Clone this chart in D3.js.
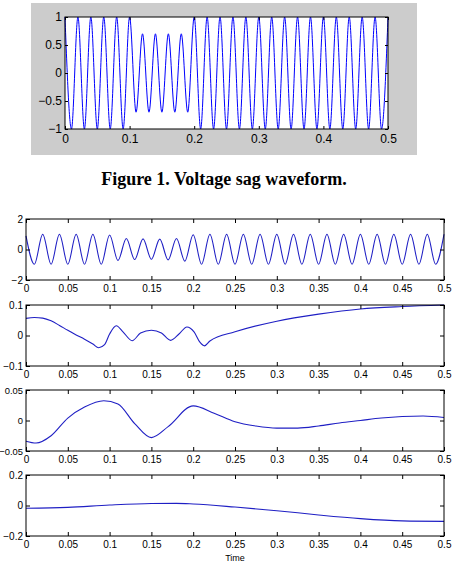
<!DOCTYPE html>
<html>
<head>
<meta charset="utf-8">
<script src="https://cdn.jsdelivr.net/npm/d3@7"></script>
<style>
  body { margin: 0; background: #fff; }
  svg { display: block; }
  .tick text { font-family: "Liberation Sans", Arial, sans-serif; fill: #000; }
  .tick line { stroke: #000; }
</style>
</head>
<body>
<svg id="fig" width="454" height="566"></svg>
<script>
'use strict';

// peak/trough times of the 50 Hz waves (s)
var cycleTimes = [0, 0.01, 0.02, 0.03, 0.04, 0.05, 0.06, 0.07, 0.08, 0.09,
  0.1, 0.11, 0.12, 0.13, 0.14, 0.15, 0.16, 0.17, 0.18, 0.19,
  0.2, 0.21, 0.22, 0.23, 0.24, 0.25, 0.26, 0.27, 0.28, 0.29,
  0.3, 0.31, 0.32, 0.33, 0.34, 0.35, 0.36, 0.37, 0.38, 0.39,
  0.4, 0.41, 0.42, 0.43, 0.44, 0.45, 0.46, 0.47, 0.48, 0.49, 0.5];

// figure 1: voltage sag, extreme values at each half cycle
var sagWave = [1, -1, 1, -1, 1, -1, 1, -1, 1, -1,
  1, -0.7, 0.7, -0.7, 0.7, -0.7, 0.7, -0.7, 0.7, -0.7,
  1, -1, 1, -1, 1, -1, 1, -1, 1, -1,
  1, -1, 1, -1, 1, -1, 1, -1, 1, -1,
  1, -1, 1, -1, 1, -1, 1, -1, 1, -1, 1];

// subplot 1: measured signal, extreme values at each half cycle
var signalWave = [0.9, -0.97, 1, -0.97, 1, -0.97, 1, -0.97, 1, -0.97,
  0.95, -0.72, 0.72, -0.66, 0.7, -0.64, 0.68, -0.68, 0.72, -0.76,
  0.97, -0.97, 1, -0.97, 1, -0.97, 1, -0.97, 1, -0.97,
  1, -0.97, 1, -0.97, 1, -0.97, 1, -0.97, 1, -0.97,
  1, -0.97, 1, -0.97, 1, -0.97, 1, -0.97, 1, -0.97, 1];

// subplot 2
var detail1Times = [0, 0.01, 0.02, 0.03, 0.04, 0.05, 0.06, 0.07, 0.08, 0.087, 0.094,
  0.1, 0.108, 0.116, 0.127, 0.137, 0.15, 0.162, 0.173, 0.183, 0.1925, 0.201,
  0.208, 0.2135, 0.22, 0.25, 0.3, 0.35, 0.4, 0.45, 0.5];
var detail1Values = [0.056, 0.059, 0.057, 0.048, 0.033, 0.017, 0.002, -0.012, -0.028, -0.04, -0.03,
  0.005, 0.032, 0.012, -0.017, 0.008, 0.017, 0.008, -0.016, 0.005, 0.028, 0.012,
  -0.022, -0.034, -0.018, 0.012, 0.047, 0.07, 0.087, 0.095, 0.1];

// subplot 3
var detail2Times = [0, 0.012, 0.03, 0.05, 0.07, 0.093, 0.11, 0.13, 0.15, 0.17, 0.2,
  0.225, 0.25, 0.275, 0.3, 0.325, 0.35, 0.375, 0.4, 0.425, 0.45, 0.475, 0.5];
var detail2Values = [-0.034, -0.037, -0.025, 0.004, 0.022, 0.0325, 0.027, -0.005, -0.028, -0.01, 0.024,
  0.012, -0.002, -0.009, -0.0125, -0.0125, -0.009, -0.004, 0.0, 0.004, 0.0065, 0.0075, 0.005];

// subplot 4
var approxTimes = [0, 0.05, 0.1, 0.15, 0.18, 0.2, 0.25, 0.3, 0.35, 0.4, 0.45, 0.5];
var approxValues = [-0.018, -0.012, 0.003, 0.013, 0.014, 0.01, -0.01, -0.034, -0.062, -0.086, -0.101, -0.104];

var timeTicks = [0, 0.05, 0.1, 0.15, 0.2, 0.25, 0.3, 0.35, 0.4, 0.45, 0.5];

var svg = d3.select("#fig");
var fmt = function(d) { return d3.format("~g")(d); };

// ---- figure 1 ----
svg.append("rect")
  .attr("x", 31).attr("y", 3).attr("width", 386).attr("height", 152)
  .attr("fill", "#cccccc");

var topPanel = function() {
  var left = 65, top = 17, w = 323, h = 112;
  var x = d3.scaleLinear().domain([0, 0.5]).range([left, left + w]);
  var y = d3.scaleLinear().domain([-1, 1]).range([top + h, top]);
  svg.append("rect")
    .attr("x", left).attr("y", top).attr("width", w).attr("height", h)
    .attr("fill", "#fff");
  var line = d3.line()
    .x(function(d, i) { return x(cycleTimes[i]); })
    .y(function(d) { return y(d); })
    .curve(d3.curveMonotoneX);
  svg.append("path")
    .datum(sagWave)
    .attr("d", line)
    .attr("fill", "none")
    .attr("stroke", "#0000ff")
    .attr("stroke-width", 1);
  var xt = [0, 0.1, 0.2, 0.3, 0.4, 0.5];
  var yt = [-1, -0.5, 0, 0.5, 1];
  svg.append("g").attr("transform", "translate(0," + (top + h) + ")")
    .call(d3.axisBottom(x).tickValues(xt).tickFormat(fmt).tickSize(-3).tickPadding(5))
    .call(function(g) { g.select(".domain").remove(); g.selectAll("text").attr("font-size", 12); });
  svg.append("g").attr("transform", "translate(0," + top + ")")
    .call(d3.axisTop(x).tickValues(xt).tickFormat("").tickSize(-3))
    .call(function(g) { g.select(".domain").remove(); });
  svg.append("g").attr("transform", "translate(" + left + ",0)")
    .call(d3.axisLeft(y).tickValues(yt).tickFormat(fmt).tickSize(-3).tickPadding(3))
    .call(function(g) { g.select(".domain").remove(); g.selectAll("text").attr("font-size", 12); });
  svg.append("g").attr("transform", "translate(" + (left + w) + ",0)")
    .call(d3.axisRight(y).tickValues(yt).tickFormat("").tickSize(-3))
    .call(function(g) { g.select(".domain").remove(); });
  svg.append("rect")
    .attr("x", left).attr("y", top).attr("width", w).attr("height", h)
    .attr("fill", "none").attr("stroke", "#000").attr("stroke-width", 1);
};
topPanel();

svg.append("text")
  .attr("x", 224).attr("y", 185)
  .attr("text-anchor", "middle")
  .attr("font-family", "'Liberation Serif', 'Times New Roman', serif")
  .attr("font-weight", "bold")
  .attr("font-size", 18)
  .text("Figure 1. Voltage sag waveform.");

// ---- subplots ----
var subplot = function(top, times, values, yDomain, yTicks, labelSize) {
  var left = 26, w = 418, h = 61;
  var x = d3.scaleLinear().domain([0, 0.5]).range([left, left + w]);
  var y = d3.scaleLinear().domain(yDomain).range([top + h, top]);
  var line = d3.line()
    .x(function(d, i) { return x(times[i]); })
    .y(function(d) { return y(d); })
    .curve(d3.curveMonotoneX);
  svg.append("path")
    .datum(values)
    .attr("d", line)
    .attr("fill", "none")
    .attr("stroke", "#1f1fc4")
    .attr("stroke-width", 1.1);
  svg.append("g").attr("transform", "translate(0," + (top + h) + ")")
    .call(d3.axisBottom(x).tickValues(timeTicks).tickFormat(fmt).tickSize(-4).tickPadding(5))
    .call(function(g) { g.select(".domain").remove(); g.selectAll("text").attr("font-size", 10); });
  svg.append("g").attr("transform", "translate(0," + top + ")")
    .call(d3.axisTop(x).tickValues(timeTicks).tickFormat("").tickSize(-4))
    .call(function(g) { g.select(".domain").remove(); });
  svg.append("g").attr("transform", "translate(" + left + ",0)")
    .call(d3.axisLeft(y).tickValues(yTicks).tickFormat(fmt).tickSize(-4).tickPadding(3))
    .call(function(g) { g.select(".domain").remove(); g.selectAll("text").attr("font-size", labelSize); });
  svg.append("g").attr("transform", "translate(" + (left + w) + ",0)")
    .call(d3.axisRight(y).tickValues(yTicks).tickFormat("").tickSize(-4))
    .call(function(g) { g.select(".domain").remove(); });
  svg.append("rect")
    .attr("x", left).attr("y", top).attr("width", w).attr("height", h)
    .attr("fill", "none").attr("stroke", "#000").attr("stroke-width", 1);
};

subplot(219, cycleTimes, signalWave, [-2, 2], [-2, 0, 2], 10);
subplot(305, detail1Times, detail1Values, [-0.1, 0.1], [-0.1, 0, 0.1], 10);
subplot(390, detail2Times, detail2Values, [-0.05, 0.05], [-0.05, 0, 0.05], 9.4);
subplot(475, approxTimes, approxValues, [-0.2, 0.2], [-0.2, 0, 0.2], 10);

svg.append("text")
  .attr("x", 235).attr("y", 561)
  .attr("text-anchor", "middle")
  .attr("font-family", "'Liberation Sans', Arial, sans-serif")
  .attr("font-size", 9)
  .text("Time");
</script>
</body>
</html>
